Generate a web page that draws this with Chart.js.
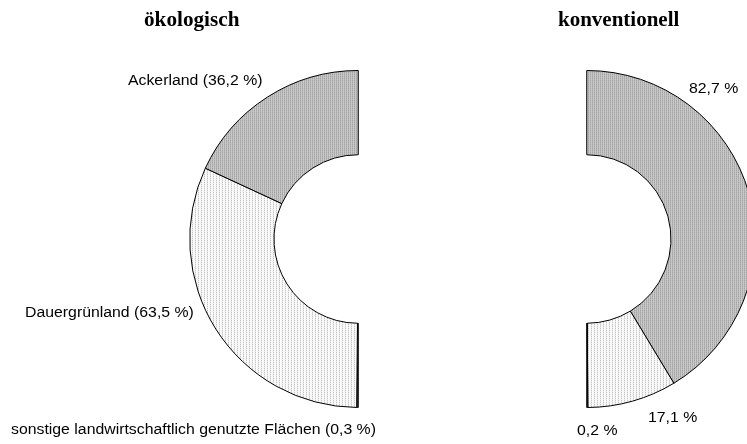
<!DOCTYPE html>
<html>
<head>
<meta charset="utf-8">
<script src="https://cdn.jsdelivr.net/npm/chart.js@4.4.0/dist/chart.umd.min.js"></script>
<style>
  body { margin: 0; width: 747px; height: 444px; overflow: hidden; background: #fff; position: relative; }
  .wrap { position: absolute; left: 0; top: 0; width: 800px; height: 444px; }
  .t { position: absolute; font-family: "Liberation Serif", serif; font-weight: bold; font-size: 20px; line-height: 1; color: #000; white-space: nowrap; transform-origin: left top; }
  .l { position: absolute; font-family: "Liberation Sans", Arial, sans-serif; font-size: 14px; color: #000; white-space: nowrap; transform: scaleX(1.13); transform-origin: left top; }
</style>
</head>
<body>
<div class="wrap"><canvas id="oeko"></canvas></div>
<div class="wrap"><canvas id="konv"></canvas></div>

<div class="t" style="left:144px; top:9px; transform: scaleX(1.06);">ökologisch</div>
<div class="t" style="left:558px; top:9px; transform: scaleX(1.05);">konventionell</div>

<div class="l" style="left:128px; top:72px;">Ackerland (36,2 %)</div>
<div class="l" style="left:25px; top:304px;">Dauergrünland (63,5 %)</div>
<div class="l" style="left:11px; top:421px;">sonstige landwirtschaftlich genutzte Flächen (0,3 %)</div>
<div class="l" style="left:689px; top:80px;">82,7 %</div>
<div class="l" style="left:648px; top:409px;">17,1 %</div>
<div class="l" style="left:577px; top:422px;">0,2 %</div>

<script>
// Daten (Anteile an der landwirtschaftlich genutzten Fläche, %)
var kategorienOeko = ['sonstige landwirtschaftlich genutzte Flächen', 'Dauergrünland', 'Ackerland'];
var werteOeko = [0.3, 63.5, 36.2];
var kategorienKonv = ['Ackerland', 'Dauergrünland', 'sonstige landwirtschaftlich genutzte Flächen'];
var werteKonv = [82.7, 17.1, 0.2];

// Rastermuster wie im Original
function muster(w, h, pixel) {
    var c = document.createElement('canvas');
    c.width = w; c.height = h;
    var g = c.getContext('2d');
    for (var y = 0; y < h; y++) {
        for (var x = 0; x < w; x++) {
            g.fillStyle = pixel[y][x];
            g.fillRect(x, y, 1, 1);
        }
    }
    return g.createPattern(c, 'repeat');
}
var ackerMuster = muster(2, 2, [['#a4a4a4', '#c8c8c8'], ['#b4b4b4', '#c8c8c8']]);
var gruenMuster = muster(3, 2, [['#c4c4c4', '#fafafa', '#ffffff'], ['#e8e8e8', '#ffffff', '#f2f2f2']]);
var sonstFarbe = '#444444';

var farbenOeko = [sonstFarbe, gruenMuster, ackerMuster];
var farbenKonv = [ackerMuster, gruenMuster, sonstFarbe];

var basis = {
    responsive: false,
    animation: false,
    cutout: '50%',
    plugins: { legend: { display: false }, tooltip: { enabled: false } }
};

var c1 = document.getElementById('oeko');
c1.width = 800; c1.height = 444;
new Chart(c1, {
    type: 'doughnut',
    data: {
        labels: kategorienOeko,
        datasets: [{
            data: werteOeko,
            backgroundColor: farbenOeko,
            borderColor: '#000',
            borderWidth: 1
        }]
    },
    options: Object.assign({}, basis, {
        rotation: 180,
        circumference: 180,
        layout: { padding: { left: 189, top: 70, right: 800 - 359, bottom: 36 } }
    })
});

var c2 = document.getElementById('konv');
c2.width = 800; c2.height = 444;
new Chart(c2, {
    type: 'doughnut',
    data: {
        labels: kategorienKonv,
        datasets: [{
            data: werteKonv,
            backgroundColor: farbenKonv,
            borderColor: '#000',
            borderWidth: 1
        }]
    },
    options: Object.assign({}, basis, {
        rotation: 0,
        circumference: 180,
        layout: { padding: { left: 586, top: 70, right: 800 - 756, bottom: 36 } }
    })
});
</script>
</body>
</html>
